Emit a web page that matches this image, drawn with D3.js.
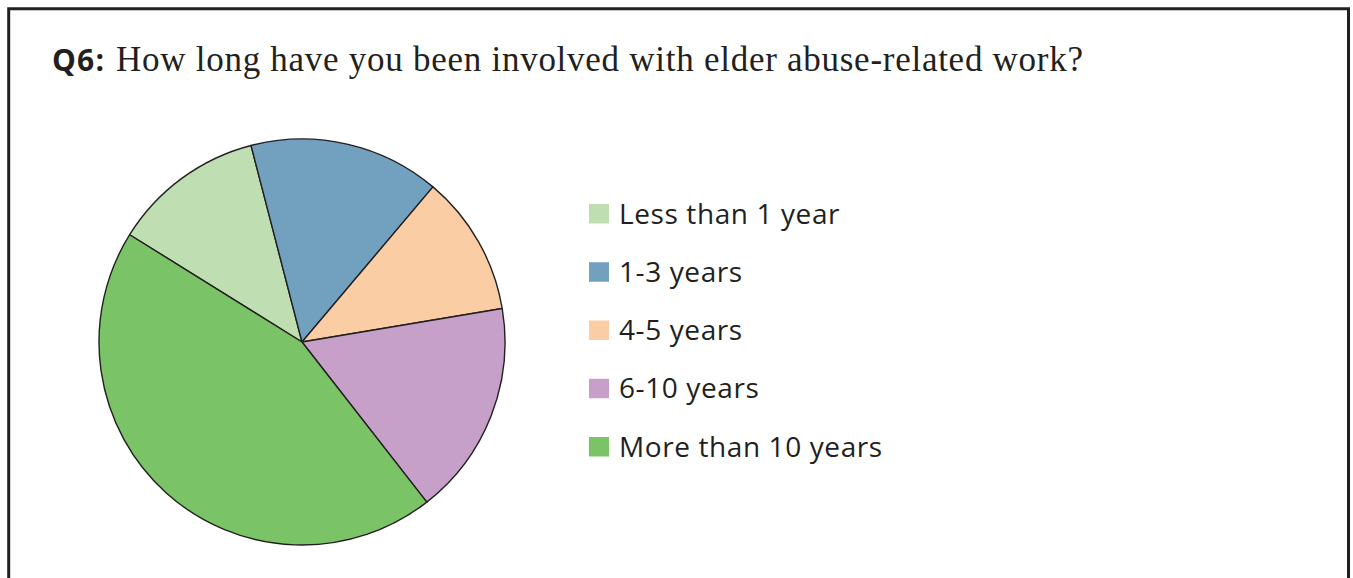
<!DOCTYPE html>
<html>
<head>
<meta charset="utf-8">
<script src="https://cdn.jsdelivr.net/npm/d3@7"></script>
<style>
  html, body { margin: 0; padding: 0; background: #fff; }
  svg { display: block; }
</style>
</head>
<body>
<svg id="chart" width="1353" height="578"></svg>
<script>
// Survey responses: years of involvement with elder abuse-related work (% of respondents)
const categories = ["Less than 1 year", "1-3 years", "4-5 years", "6-10 years", "More than 10 years"];
const values = [12.1, 15.2, 11.2, 17.1, 44.4];
const colors = ["#bfdfb2", "#72a0bf", "#fbcda5", "#c6a0c9", "#7ac367"];

const questionLabel = "Q6:";
const questionText = "How long have you been involved with elder abuse-related work?";

const svg = d3.select("#chart");
const W = 1353, H = 578;

// frame (open at the bottom edge)
svg.append("path")
  .attr("d", `M8.7,${H + 5} V8.7 H1348.5 V${H + 5}`)
  .attr("fill", "none")
  .attr("stroke", "#231f20")
  .attr("stroke-width", 3);

// question title
svg.append("text")
  .attr("x", 52).attr("y", 71)
  .attr("font-family", "'Open Sans', sans-serif")
  .attr("font-weight", 700)
  .attr("font-size", 30)
  .attr("letter-spacing", 1.2)
  .attr("fill", "#231f20")
  .text(questionLabel);

svg.append("text")
  .attr("x", 116).attr("y", 71)
  .attr("font-family", "'Liberation Serif', 'Times New Roman', serif")
  .attr("font-size", 35)
  .attr("fill", "#231f20")
  .attr("textLength", 967)
  .attr("lengthAdjust", "spacing")
  .text(questionText);

// pie
const cx = 302, cy = 342, r = 203;
const startDeg = -58.1;
const pie = d3.pie()
  .sort(null)
  .value(d => d.v)
  .startAngle(startDeg * Math.PI / 180)
  .endAngle(startDeg * Math.PI / 180 + 2 * Math.PI);
const arc = d3.arc().innerRadius(0).outerRadius(r);
const data = categories.map((c, i) => ({ c, v: values[i], col: colors[i] }));

const g = svg.append("g").attr("transform", `translate(${cx},${cy})`);
g.selectAll("path")
  .data(pie(data))
  .join("path")
  .attr("d", arc)
  .attr("fill", d => d.data.col)
  .attr("stroke", "#231f20")
  .attr("stroke-width", 1.4)
  .attr("stroke-linejoin", "round");

// legend
const legendY = d3.scalePoint().domain(categories).range([223.5, 456.5]);
const lg = svg.append("g");
const rows = lg.selectAll("g")
  .data(data)
  .join("g")
  .attr("transform", d => `translate(589,${legendY(d.c)})`);
rows.append("rect")
  .attr("x", 0).attr("y", -19.5)
  .attr("width", 20).attr("height", 19.5)
  .attr("fill", d => d.col);
rows.append("text")
  .attr("x", 30).attr("y", 0)
  .attr("font-family", "'Open Sans', sans-serif")
  .attr("font-size", 28)
  .attr("letter-spacing", 0.6)
  .attr("fill", "#231f20")
  .text(d => d.c);
</script>
</body>
</html>
